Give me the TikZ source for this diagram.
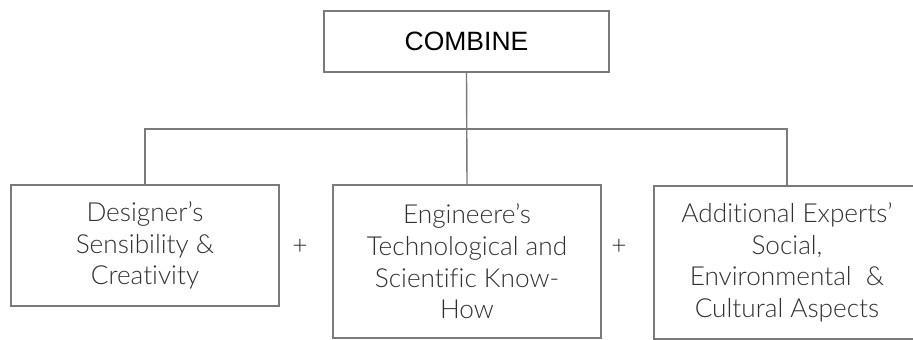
\documentclass[tikz,border=0pt]{standalone}
\usepackage{fontspec}
\setmainfont{Lato Light}[Ligatures=NoCommon]
\newfontfamily\arialfont{Liberation Sans}
\definecolor{linegray}{HTML}{7A7A7A}
\definecolor{textgray}{HTML}{303030}
\begin{document}
\begin{tikzpicture}[x=1pt,y=-1pt,
  box/.style={draw=linegray, line width=1.4pt, inner sep=0pt, align=center,
    text=textgray, font=\fontsize{26.2}{31.7}\selectfont},
  topbox/.style={draw=linegray, line width=1.4pt, inner sep=0pt,
    text=black, font=\arialfont\fontsize{26.5}{30}\selectfont},
  conn/.style={draw=linegray, line width=1.4pt},
  plus/.style={text=textgray, font=\fontsize{26.2}{30}\selectfont, inner sep=0pt}]
\useasboundingbox (0,0) rectangle (913,340);
\node[topbox, minimum width=285pt, minimum height=61pt] (top) at (466.5,41.5) {COMBINE};
\node[box, minimum width=268pt, minimum height=121pt] (b1) at (145,245.5)
  {Designer’s\\Sensibility \&\\Creativity};
\node[box, minimum width=268pt, minimum height=153pt] (b2) at (467,261.5)
  {Engineere’s\\Technological and\\Scientific Know-\\How};
\node[box, minimum width=266pt, minimum height=153pt] (b3) at (787,262.5)
  {Additional Experts’\\Social,\\Environmental\ \ \&\\Cultural Aspects};
\node[plus] (p1) at (300,247) {+};
\node[plus] (p2) at (619,247) {+};
\coordinate (bus) at (466.5,129);
\draw[conn] (top.south) -- (b2.north);
\draw[conn] (b1.north) |- (bus) -| (b3.north);
\end{tikzpicture}
\end{document}
